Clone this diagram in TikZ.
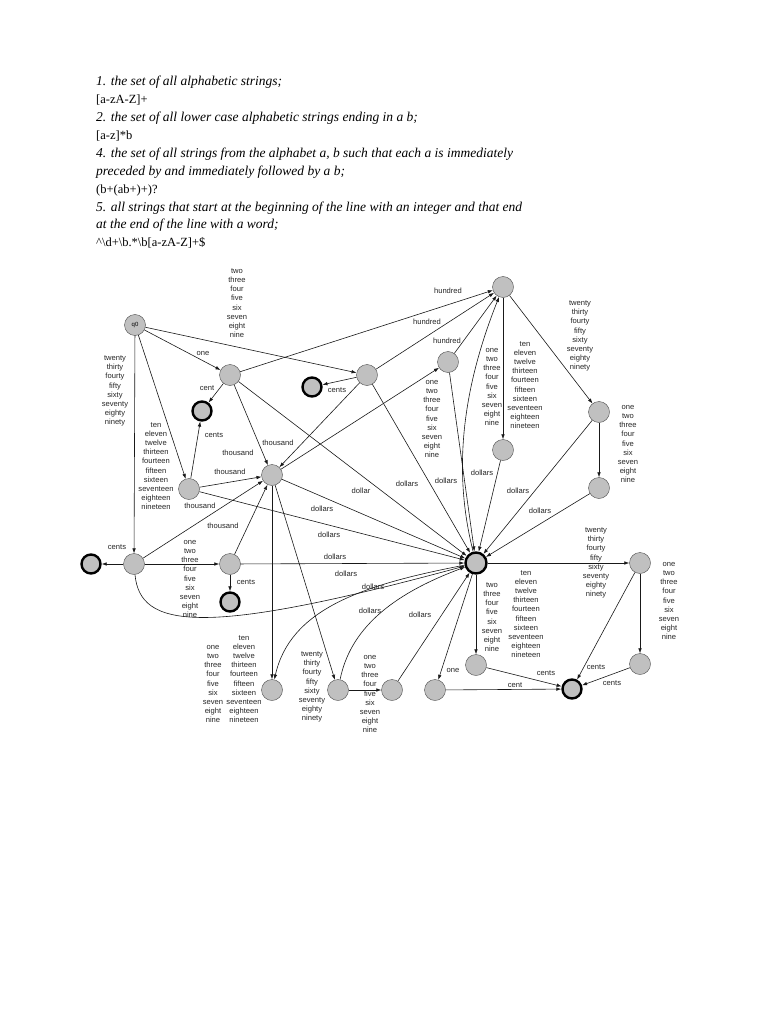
\documentclass[tikz,border=0pt]{standalone}
\usepackage{fontspec}
\setmainfont{Liberation Serif}
\newfontfamily\lblfont{Liberation Sans}
\usetikzlibrary{arrows.meta,positioning}
\definecolor{stgray}{RGB}{192,192,192}
\newcommand{\onenine}{one\\two\\three\\four\\five\\six\\seven\\eight\\nine}
\newcommand{\twonine}{two\\three\\four\\five\\six\\seven\\eight\\nine}
\newcommand{\teens}{ten\\eleven\\twelve\\thirteen\\fourteen\\fifteen\\sixteen\\seventeen\\eighteen\\nineteen}
\newcommand{\tys}{twenty\\thirty\\fourty\\fifty\\sixty\\seventy\\eighty\\ninety}
\newcommand{\task}{\fontsize{13.5}{17.9}\selectfont\itshape}
\tikzset{
    st/.style={circle,draw=black!70,fill=stgray,thin,minimum size=21pt,inner sep=0pt},
    acc/.style={st,draw=black,line width=2.4pt,minimum size=19pt},
    tr/.style={-{Latex[length=5pt,width=3.6pt]},draw=black!90,line width=0.6pt},
    lbl/.style={font=\lblfont\fontsize{7.6}{9.2}\selectfont,align=center,inner sep=0pt,text=black!85},
    spec/.style={font=\fontsize{12.5}{17.9}\selectfont,align=left,inner sep=0pt,anchor=north west}
}
\begin{document}
\begin{tikzpicture}[x=1pt,y=-1pt]
\useasboundingbox[fill=white] (0,0) rectangle (768,1024);

% the exercises
\node[spec] (exercises) at (96,76)
{{\task 1. the set of all alphabetic strings;}\\
{}[a-zA-Z]+\\
{\task 2. the set of all lower case alphabetic strings ending in a b;}\\
{}[a-z]*b\\
{\task 4. the set of all strings from the alphabet a, b such that each a is immediately}\\
{\task preceded by and immediately followed by a b;}\\
(b+(ab+)+)?\\
{\task 5. all strings that start at the beginning of the line with an integer and that end}\\
{\task at the end of the line with a word;}\\
\textasciicircum\textbackslash d+\textbackslash b.*\textbackslash b[a-zA-Z]+\$};

% states
\node[st] (q0) at (135,325) {\lblfont\fontsize{6}{6}\selectfont q0};
\node[st] (one) at (230,375) {};
\node[acc] (onecent) at (202,411) {};
\node[st] (digit) at (367,375) {};
\node[acc] (digitcent) at (312,387) {};
\node[st] (hdigit) at (448,362) {};
\node[st] (hund) at (503,287) {};
\node[st] (teen) at (189,489) {};
\node[st] (thou) at (272,475) {};
\node[st] (tens) at (134,564) {};
\node[acc] (tenscent) at (91,564) {};
\node[st] (tensone) at (230,564) {};
\node[acc] (tensonecent) at (230,602) {};
\node[acc,minimum size=21pt] (dollar) at (476,563) {};
\node[st] (hteen) at (503,450) {};
\node[st] (hty) at (599,412) {};
\node[st] (htyone) at (599,488) {};
\node[st] (tteen) at (272,690) {};
\node[st] (tty) at (338,690) {};
\node[st] (ttyone) at (392,690) {};
\node[st] (cone) at (435,690) {};
\node[st] (cdigit) at (476,665) {};
\node[acc] (cents) at (572,689) {};
\node[st] (cty) at (640,563) {};
\node[st] (ctyone) at (640,664) {};

% transitions
\draw[tr] (q0) -- (one);
\draw[tr] (q0) -- (digit);
\draw[tr] (q0) -- (teen);
\draw[tr] (q0) -- (tens);
\draw[tr] (one) -- (onecent);
\draw[tr] (one) -- (hund);
\draw[tr] (one) -- (thou);
\draw[tr] (one) -- (dollar);
\draw[tr] (digit) -- (digitcent);
\draw[tr] (digit) -- (hund);
\draw[tr] (digit) -- (thou);
\draw[tr] (digit) -- (dollar);
\draw[tr] (hdigit) -- (hund);
\draw[tr] (hdigit) -- (dollar);
\draw[tr] (teen) -- (onecent);
\draw[tr] (teen) -- (thou);
\draw[tr] (teen) -- (dollar);
\draw[tr] (tens) -- (tenscent);
\draw[tr] (tens) -- (tensone);
\draw[tr] (tens) -- (thou);
\draw[tr] (tens) .. controls (140,628) and (200,638) .. (dollar);
\draw[tr] (tensone) -- (tensonecent);
\draw[tr] (tensone) -- (thou);
\draw[tr] (tensone) -- (dollar);
\draw[tr] (thou) -- (hdigit);
\draw[tr] (thou) -- (dollar);
\draw[tr] (thou) -- (tteen);
\draw[tr] (thou) -- (tty);
\draw[tr] (hund) -- (hteen);
\draw[tr] (hund) -- (hty);
\draw[tr] (hteen) -- (dollar);
\draw[tr] (hty) -- (htyone);
\draw[tr] (hty) -- (dollar);
\draw[tr] (htyone) -- (dollar);
\draw[tr] (dollar) .. controls (455,480) and (458,400) .. (hund);
\draw[tr] (dollar) -- (cdigit);
\draw[tr] (dollar) -- (cty);
\draw[tr] (dollar) -- (cone);
\draw[tr] (dollar) .. controls (360,585) and (290,610) .. (tteen);
\draw[tr] (cdigit) -- (cents);
\draw[tr] (cone) -- (cents);
\draw[tr] (cty) -- (ctyone);
\draw[tr] (cty) -- (cents);
\draw[tr] (ctyone) -- (cents);
\draw[tr] (tty) -- (ttyone);
\draw[tr] (tty) .. controls (350,630) and (390,595) .. (dollar);
\draw[tr] (ttyone) -- (dollar);

% labels
\node[lbl] (l1) at (203,353) {one};
\node[lbl] (l2) at (237,303) {\twonine};
\node[lbl] (l3) at (156,466) {\teens};
\node[lbl] (l4) at (115,391) {\tys};
\node[lbl] (l5) at (207,388) {cent};
\node[lbl] (l6) at (448,291) {hundred};
\node[lbl] (l7) at (427,322) {hundred};
\node[lbl] (l8) at (447,341) {hundred};
\node[lbl] (l9) at (337,390) {cents};
\node[lbl] (l10) at (214,435) {cents};
\node[lbl] (l11) at (238,453) {thousand};
\node[lbl] (l12) at (278,443) {thousand};
\node[lbl] (l13) at (230,472) {thousand};
\node[lbl] (l14) at (200,506) {thousand};
\node[lbl] (l15) at (223,526) {thousand};
\node[lbl] (l16) at (117,547) {cents};
\node[lbl] (l17) at (190,579) {\onenine};
\node[lbl] (l18) at (246,582) {cents};
\node[lbl] (l19) at (432,419) {\onenine};
\node[lbl] (l20) at (492,387) {\onenine};
\node[lbl] (l21) at (525,385) {\teens};
\node[lbl] (l22) at (580,336) {\tys};
\node[lbl] (l23) at (628,444) {\onenine};
\node[lbl] (l24) at (361,491) {dollar};
\node[lbl] (l25) at (407,484) {dollars};
\node[lbl] (l26) at (446,481) {dollars};
\node[lbl] (l27) at (482,473) {dollars};
\node[lbl] (l28) at (518,491) {dollars};
\node[lbl] (l29) at (540,511) {dollars};
\node[lbl] (l30) at (322,509) {dollars};
\node[lbl] (l31) at (329,535) {dollars};
\node[lbl] (l32) at (335,557) {dollars};
\node[lbl] (l33) at (346,574) {dollars};
\node[lbl] (l34) at (373,587) {dollars};
\node[lbl] (l35) at (370,611) {dollars};
\node[lbl] (l36) at (420,615) {dollars};
\node[lbl] (l37) at (492,617) {\twonine};
\node[lbl] (l38) at (526,614) {\teens};
\node[lbl] (l39) at (596,563) {\tys};
\node[lbl] (l40) at (669,601) {\onenine};
\node[lbl] (l41) at (596,667) {cents};
\node[lbl] (l42) at (612,683) {cents};
\node[lbl] (l43) at (546,673) {cents};
\node[lbl] (l44) at (515,685) {cent};
\node[lbl] (l45) at (453,670) {one};
\node[lbl] (l46) at (213,684) {\onenine};
\node[lbl] (l47) at (244,679) {\teens};
\node[lbl] (l48) at (312,687) {\tys};
\node[lbl] (l49) at (370,694) {\onenine};

\end{tikzpicture}
\end{document}
